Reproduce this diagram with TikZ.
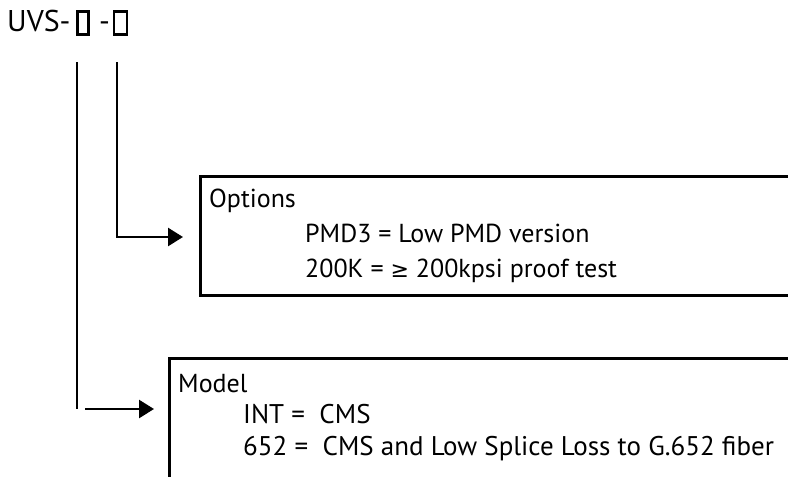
\documentclass[tikz,border=0pt]{standalone}
\usepackage{fontspec}
\setmainfont{PT Sans}
\newfontfamily\symfont{DejaVu Sans}
\usetikzlibrary{arrows.meta}
\begin{document}
\begin{tikzpicture}[x=1pt,y=-1pt,
  line/.style={line width=2.2pt},
  boxline/.style={line width=3pt},
  arr/.style={line width=2.6pt,-{Triangle[length=15pt,width=18pt]}},
  txt/.style={anchor=base west,inner sep=0pt,font=\fontsize{26}{30}\selectfont},
  ttl/.style={anchor=base west,inner sep=0pt,font=\fontsize{30}{36}\selectfont},
  glyphbox/.style={draw,line width=2.2pt,minimum height=23pt,inner sep=0pt}]
\useasboundingbox (0,0) rectangle (788,477);
\clip (0,0) rectangle (788,477);
% title
\node[ttl] (uvs) at (7,31) {UVS-};
\node[glyphbox,minimum width=11pt] (g1) at (83,23) {};
\node[ttl] (dash) at (99,31) {-};
\node[glyphbox,minimum width=13pt] (g2) at (120.5,23) {};
% connector start points
\coordinate (m0) at (77,62);
\coordinate (m1) at (77,409);
\coordinate (m2) at (85,409);
\coordinate (m3) at (154,409);
\coordinate (o0) at (117,62);
\coordinate (o1) at (117,237);
\coordinate (o2) at (183,237);
% options box
\coordinate (ob1) at (800,176);
\coordinate (ob2) at (200,176);
\coordinate (ob3) at (200,295);
\coordinate (ob4) at (800,295);
\draw[boxline] (ob1) -- (ob2) -- (ob3) -- (ob4);
\node[txt] (opt) at (209,207) {Options};
\node[txt] (pmd) at (305,242) {PMD3 = Low PMD version};
\node[txt] (k200) at (305,277) {200K = {\symfont\fontsize{22}{30}\selectfont ≥} 200kpsi proof test};
% model box
\coordinate (mb1) at (800,358);
\coordinate (mb2) at (169,358);
\coordinate (mb3) at (169,490);
\draw[boxline] (mb1) -- (mb2) -- (mb3);
\node[txt] (mod) at (178,392) {Model};
\node[txt,font=\fontsize{27}{30}\selectfont] (int) at (243,423) {INT =\ \ CMS};
\node[txt,font=\fontsize{27}{30}\selectfont] (s652) at (243,455) {652 =\ \ CMS and Low Splice Loss to G.652 fiber};
% connectors
\draw[line] (m0) -- (m1);
\draw[arr] (m2) -- (m3);
\draw[arr] (o0) -- (o1) -- (o2);
\end{tikzpicture}
\end{document}
